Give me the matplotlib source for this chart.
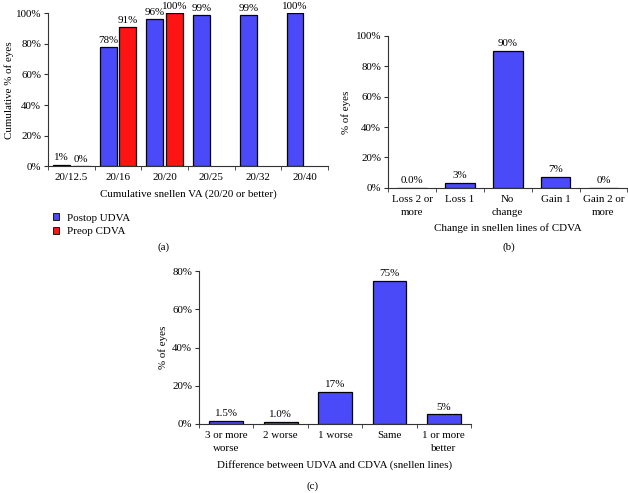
import numpy as np
import matplotlib
matplotlib.use('Agg')
import matplotlib.pyplot as plt
from matplotlib.patches import Patch

plt.rcParams['font.family'] = ['Liberation Serif', 'DejaVu Serif']
plt.rcParams['font.size'] = 7.9

BLUE = '#4a4af8'
RED = '#ff1414'

# panel (a)
cats_a = ['20/12.5', '20/16', '20/20', '20/25', '20/32', '20/40']
postop_udva = [1, 78, 96, 99, 99, 100]
preop_cdva = [0, 91, 100, None, None, None]

# panel (b)
cats_b = ['Loss 2 or\nmore', 'Loss 1', 'No\nchange', 'Gain 1', 'Gain 2 or\nmore']
vals_b = [0.0, 3.4, 90, 7, 0]
labels_b = ['0.0%', '3%', '90%', '7%', '0%']

# panel (c)
cats_c = ['3 or more\nworse', '2 worse', '1 worse', 'Same', '1 or more\nbetter']
vals_c = [1.5, 1.0, 17, 75, 5]
labels_c = ['1.5%', '1.0%', '17%', '75%', '5%']


def style_ax(ax, n, ymax):
    ax.spines['top'].set_visible(False)
    ax.spines['right'].set_visible(False)
    for s in ['left', 'bottom']:
        ax.spines[s].set_color('#333333')
        ax.spines[s].set_linewidth(0.8)
    ax.set_xlim(-0.5, n - 0.5)
    ax.set_ylim(0, ymax)
    ax.set_yticks(np.arange(0, ymax + 1, 20))
    ax.set_yticklabels(['%d%%' % v for v in np.arange(0, ymax + 1, 20)])
    ax.set_xticks(np.arange(n))
    ax.set_xticks(np.arange(-0.5, n, 1.0), minor=True)
    ax.tick_params(axis='x', which='major', length=0, pad=5)
    ax.tick_params(axis='x', which='minor', length=3, direction='out', color='#333333')
    ax.tick_params(axis='y', length=3, direction='out', color='#333333', pad=2)


fig = plt.figure(figsize=(6.28, 4.93), dpi=100)

# (a)
ax = fig.add_axes([0.0764, 0.663, 0.446, 0.31])
x = np.arange(len(cats_a))
off, w = 0.21, 0.36
ax.bar(x - off, postop_udva, w, color=BLUE, edgecolor='black', linewidth=0.9, zorder=3)
for i, v in enumerate(postop_udva):
    ax.text(x[i] - off, v + 1.5, '%d%%' % v, ha='center', va='bottom')
for i, v in enumerate(preop_cdva):
    if v is None:
        continue
    ax.bar(x[i] + off, v, w, color=RED, edgecolor='black', linewidth=0.9, zorder=3)
    ax.text(x[i] + off, v + 1.5, '%d%%' % v, ha='center', va='bottom')
style_ax(ax, len(cats_a), 100)
ax.set_xticklabels(cats_a)
ax.set_xlabel('Cumulative snellen VA (20/20 or better)', labelpad=5)
ax.set_ylabel('Cumulative % of eyes', labelpad=1)
handles = [Patch(facecolor=BLUE, edgecolor='black', linewidth=0.6),
           Patch(facecolor=RED, edgecolor='black', linewidth=0.6)]
fig.legend(handles, ['Postop UDVA', 'Preop CDVA'], loc='upper left',
           bbox_to_anchor=(0.068, 0.587), frameon=False, handlelength=0.6,
           handleheight=0.6, handletextpad=0.7, labelspacing=0.35)
fig.text(0.26, 0.498, '(a)', ha='center', va='center')

# (b)
ax = fig.add_axes([0.618, 0.619, 0.381, 0.308])
x = np.arange(len(cats_b))
ax.bar(x, vals_b, 0.62, color=BLUE, edgecolor='black', linewidth=0.9, zorder=3)
for i, v in enumerate(vals_b):
    ax.text(x[i], v + 2, labels_b[i], ha='center', va='bottom')
style_ax(ax, len(cats_b), 100)
ax.set_xticklabels(cats_b, linespacing=1.55)
ax.set_xlabel('Change in snellen lines of CDVA', labelpad=5)
ax.set_ylabel('% of eyes', labelpad=3)
fig.text(0.81, 0.498, '(b)', ha='center', va='center')

# (c)
ax = fig.add_axes([0.317, 0.140, 0.433, 0.310])
x = np.arange(len(cats_c))
ax.bar(x, vals_c, 0.62, color=BLUE, edgecolor='black', linewidth=0.9, zorder=3)
for i, v in enumerate(vals_c):
    ax.text(x[i], v + 1.5, labels_c[i], ha='center', va='bottom')
style_ax(ax, len(cats_c), 80)
ax.set_xticklabels(cats_c, linespacing=1.55)
ax.set_xlabel('Difference between UDVA and CDVA (snellen lines)', labelpad=5)
ax.set_ylabel('% of eyes', labelpad=3)
fig.text(0.497, 0.013, '(c)', ha='center', va='center')

fig.savefig('out.png', dpi=100)
